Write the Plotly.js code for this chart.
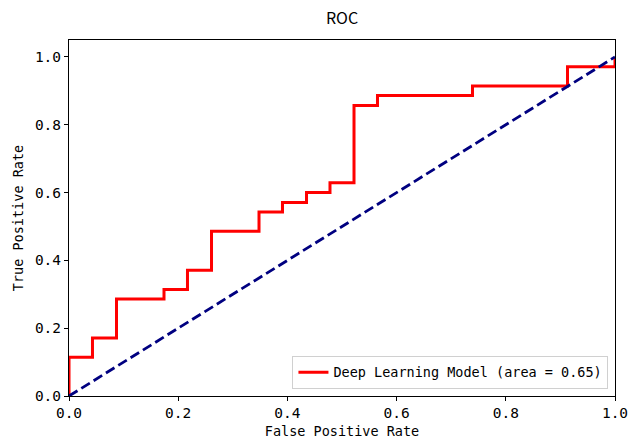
<!DOCTYPE html>
<html>
<head>
<meta charset="utf-8">
<script src="https://cdn.plot.ly/plotly-3.0.1.min.js"></script>
<style>html,body{margin:0;padding:0;background:#fff;}#chart{width:628px;height:441px;}</style>
</head>
<body>
<div id="chart"></div>
<script>
// ROC curve (step points)
const fpr = [0, 0, 0.043, 0.043, 0.087, 0.087, 0.174, 0.174, 0.217, 0.217, 0.261, 0.261, 0.348, 0.348, 0.391, 0.391, 0.435, 0.435, 0.478, 0.478, 0.522, 0.522, 0.565, 0.565, 0.739, 0.739, 0.913, 0.913, 1.0, 1.0];
const tpr = [0, 0.114, 0.114, 0.171, 0.171, 0.286, 0.286, 0.314, 0.314, 0.371, 0.371, 0.486, 0.486, 0.543, 0.543, 0.571, 0.571, 0.600, 0.600, 0.629, 0.629, 0.857, 0.857, 0.886, 0.886, 0.914, 0.914, 0.971, 0.971, 1.0];
const chanceX = [0, 1];
const chanceY = [0, 1];
const modelName = "Deep Learning Model";
const aucValue = 0.65;
const tickVals = [0, 0.2, 0.4, 0.6, 0.8, 1.0];
const tickText = ["0.0", "0.2", "0.4", "0.6", "0.8", "1.0"];

const mono = "DejaVu Sans Mono, monospace";

const traces = [
  {
    x: fpr, y: tpr, type: "scatter", mode: "lines",
    name: modelName + " (area = " + aucValue.toFixed(2) + ")",
    line: {color: "#ff0000", width: 3, shape: "linear"},
    hoverinfo: "skip"
  },
  {
    x: chanceX, y: chanceY, type: "scatter", mode: "lines",
    showlegend: false,
    line: {color: "#000080", width: 2.8, dash: "10px,4.5px"},
    hoverinfo: "skip"
  }
];

const axisCommon = {
  showline: true, mirror: true, linecolor: "#000", linewidth: 1,
  showgrid: false, zeroline: false,
  ticks: "outside", ticklen: 4, tickwidth: 1, tickcolor: "#000",
  tickfont: {family: mono, size: 14.5, color: "#000"},
  ticklabeloverflow: "allow",
  tickmode: "array", tickvals: tickVals, ticktext: tickText
};

const layout = {
  width: 628, height: 441,
  margin: {l: 69, r: 13, t: 40, b: 45},
  paper_bgcolor: "#fff", plot_bgcolor: "#fff",
  title: {text: "ROC", font: {family: "Noto Sans CJK SC, Roboto, sans-serif", size: 16, color: "#000"},
          x: 0.5, xref: "paper", xanchor: "center", y: 0.959, yref: "container", yanchor: "middle"},
  xaxis: Object.assign({}, axisCommon, {
    range: [0, 1],
    title: {text: "False Positive Rate", font: {family: mono, size: 13.5, color: "#000"}, standoff: 6}
  }),
  yaxis: Object.assign({}, axisCommon, {
    range: [0, 1.05],
    title: {text: "True Positive Rate", font: {family: mono, size: 13.5, color: "#000"}, standoff: 8}
  }),
  legend: {
    x: 0.988, y: 0.02, xanchor: "right", yanchor: "bottom",
    bgcolor: "rgba(255,255,255,0.85)", bordercolor: "#d0d0d0", borderwidth: 1,
    font: {family: mono, size: 13.5, color: "#000"}
  },
  showlegend: true
};

Plotly.newPlot("chart", traces, layout, {displayModeBar: false, staticPlot: true});
</script>
</body>
</html>
